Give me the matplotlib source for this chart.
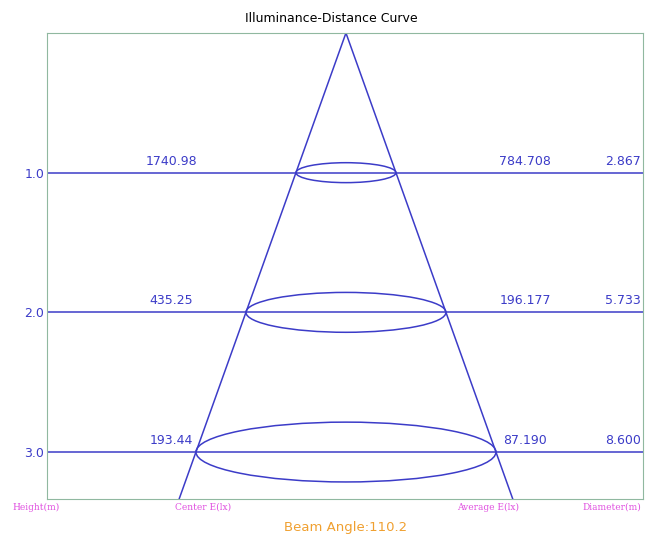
import numpy as np
import matplotlib.pyplot as plt
from matplotlib.patches import Ellipse

heights = [1.0, 2.0, 3.0]
center_e = ["1740.98", "435.25", "193.44"]
average_e = ["784.708", "196.177", "87.190"]
diameters = [2.867, 5.733, 8.600]
beam_angle = 110.2
bottom_labels = ["Height(m)", "Center E(lx)", "Average E(lx)", "Diameter(m)"]

blue = "#3c3cc8"
magenta = "#e050e0"

fig = plt.figure(figsize=(6.62, 5.37), dpi=100)
ax = fig.add_axes([0.071, 0.0708, 0.900, 0.8678])

# x in metres (horizontal radius), y = height in metres, downwards
xmin, xmax = -8.57, 8.51
ymax = 3.336
ax.set_xlim(xmin, xmax)
ax.set_ylim(ymax, 0)

half = np.tan(np.radians(beam_angle / 2))
hh = np.array([0, ymax])
ax.plot(-half * hh, hh, color=blue, lw=1.1)
ax.plot(half * hh, hh, color=blue, lw=1.1)

for h, ce, ae, d in zip(heights, center_e, average_e, diameters):
    ax.axhline(h, color=blue, lw=1.1)
    ell = Ellipse((0, h), d, d * 0.0498, fill=False, edgecolor=blue, lw=1.1)
    ax.add_patch(ell)
    ax.text(-5.0, h - 0.035, ce, color=blue, fontsize=9, ha="center", va="bottom")
    ax.text(5.14, h - 0.035, ae, color=blue, fontsize=9, ha="center", va="bottom")
    ax.text(8.45, h - 0.035, f"{d:.3f}", color=blue, fontsize=9, ha="right", va="bottom")

ax.set_xticks([])
ax.set_yticks(heights)
ax.set_yticklabels([f"{h:.1f}" for h in heights], color=blue, fontsize=9)
ax.tick_params(axis="y", length=0, pad=2)
for s in ax.spines.values():
    s.set_color("#90b8a0")

fig.text(0.5, 0.965, "Illuminance-Distance Curve", ha="center", va="center", fontsize=9)

label_x = [36, 203, 488, 612]
for lx, lab in zip(label_x, bottom_labels):
    fig.text(lx / 662, 1 - 507 / 537, lab, ha="center", va="center",
             fontsize=6.5, color=magenta, family="DejaVu Serif")
fig.text(346 / 662, 1 - 527 / 537, f"Beam Angle:{beam_angle}", ha="center",
         va="center", fontsize=9.5, color="#f0a030")

fig.savefig("out.png", dpi=100)
